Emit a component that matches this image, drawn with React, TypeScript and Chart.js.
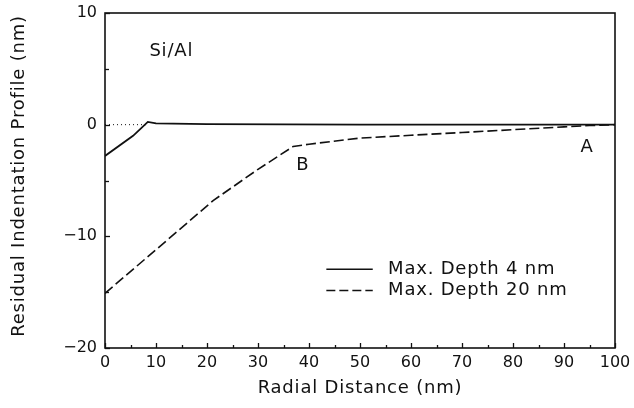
import React, { useEffect, useRef } from "react";
import { Chart, registerables } from "chart.js";

Chart.register(...registerables);

// Max. Depth 4 nm (solid)
const shallowX = [0, 5.5, 8.4, 10, 20, 50, 100];
const shallowY = [-2.8, -1.0, 0.25, 0.12, 0.05, 0, 0];

// Max. Depth 20 nm (dashed)
const deepX = [0, 10, 21.2, 30, 36.9, 40, 50, 60, 70, 80, 90, 95, 100];
const deepY = [-15.1, -11.2, -6.8, -4.0, -1.95, -1.75, -1.2, -0.95, -0.7, -0.45, -0.2, -0.08, 0];

// dotted zero reference
const refX = [0, 8.4];
const refY = [0, 0];

const legendLabels = ["Max. Depth 4 nm", "Max. Depth 20 nm"];
const xTitle = "Radial Distance (nm)";
const yTitle = "Residual Indentation Profile (nm)";
const sampleLabel = "Si/Al";
const pointLabels = [
  { text: "B", x: 38.8, y: -3.6 },
  { text: "A", x: 94.5, y: -2.0 },
];

const INK = "#111";
const FONT = "DejaVu Sans";

const toPts = (xs: number[], ys: number[]) => xs.map((x, i) => ({ x, y: ys[i] }));

const decorPlugin = {
  id: "decor",
  afterDatasetsDraw(chart: any) {
    const { ctx, chartArea: a, scales } = chart;
    const xs = scales.x;
    const ys = scales.y;
    ctx.save();
    ctx.strokeStyle = INK;
    ctx.fillStyle = INK;
    // frame
    ctx.lineWidth = 1.6;
    ctx.strokeRect(a.left, a.top, a.right - a.left, a.bottom - a.top);
    ctx.lineWidth = 1.3;
    // inward ticks x
    for (let v = 0; v <= 100; v += 5) {
      const px = Math.round(xs.getPixelForValue(v)) + 0.5;
      const len = v % 10 === 0 ? 5 : 3;
      ctx.beginPath();
      ctx.moveTo(px, a.bottom);
      ctx.lineTo(px, a.bottom - len);
      ctx.stroke();
    }
    // inward ticks y
    for (let v = -20; v <= 10; v += 5) {
      const py = Math.round(ys.getPixelForValue(v)) + 0.5;
      const len = v % 10 === 0 ? 5 : 4;
      ctx.beginPath();
      ctx.moveTo(a.left, py);
      ctx.lineTo(a.left + len, py);
      ctx.stroke();
    }
    // texts
    (ctx as any).letterSpacing = "0.8px";
    ctx.font = `18px "${FONT}"`;
    ctx.textAlign = "center";
    ctx.textBaseline = "middle";
    ctx.fillText(sampleLabel, xs.getPixelForValue(13), ys.getPixelForValue(6.6));
    pointLabels.forEach((p) => {
      ctx.fillText(p.text, xs.getPixelForValue(p.x), ys.getPixelForValue(p.y));
    });
    // axis titles
    ctx.fillText(xTitle, (a.left + a.right) / 2, 388);
    ctx.save();
    ctx.translate(19, 176);
    ctx.rotate(-Math.PI / 2);
    ctx.fillText(yTitle, 0, 0);
    ctx.restore();
    // legend
    const lx0 = xs.getPixelForValue(43.4);
    const lx1 = xs.getPixelForValue(52.5);
    const tx = xs.getPixelForValue(55.5);
    const rows = [ys.getPixelForValue(-12.95), ys.getPixelForValue(-14.85)];
    ctx.textAlign = "left";
    rows.forEach((ry, i) => {
      ctx.lineWidth = 1.5;
      ctx.setLineDash(i === 0 ? [] : [9, 4]);
      ctx.beginPath();
      ctx.moveTo(lx0, ry);
      ctx.lineTo(lx1, ry);
      ctx.stroke();
      ctx.setLineDash([]);
      ctx.fillText(legendLabels[i], tx, ry);
    });
    ctx.restore();
  },
};

export default function App() {
  const ref = useRef<HTMLCanvasElement>(null);
  useEffect(() => {
    if (!ref.current) return;
    const chart = new Chart(ref.current, {
      type: "scatter",
      data: {
        datasets: [
          {
            label: "ref",
            data: toPts(refX, refY),
            showLine: true,
            borderColor: INK,
            borderWidth: 1,
            borderDash: [1, 3],
            pointRadius: 0,
          },
          {
            label: legendLabels[0],
            data: toPts(shallowX, shallowY),
            showLine: true,
            borderColor: INK,
            borderWidth: 1.8,
            pointRadius: 0,
          },
          {
            label: legendLabels[1],
            data: toPts(deepX, deepY),
            showLine: true,
            borderColor: INK,
            borderWidth: 1.6,
            borderDash: [10, 4],
            pointRadius: 0,
          },
        ],
      },
      options: {
        animation: false,
        responsive: true,
        maintainAspectRatio: false,
        layout: { padding: { top: 13, right: 19, left: 0, bottom: 0 } },
        plugins: { legend: { display: false }, tooltip: { enabled: false } },
        scales: {
          x: {
            type: "linear",
            min: 0,
            max: 100,
            grid: { display: false, drawTicks: false },
            border: { display: false },
            ticks: {
              stepSize: 10,
              padding: 5,
              color: INK,
              font: { family: FONT, size: 16 },
              maxRotation: 0,
            },
            afterFit: (s: any) => {
              s.height = 60;
              s.paddingLeft = 0;
              s.paddingRight = 0;
            },
          },
          y: {
            type: "linear",
            min: -20,
            max: 10,
            grid: { display: false, drawTicks: false },
            border: { display: false },
            ticks: {
              stepSize: 10,
              padding: 8,
              color: INK,
              font: { family: FONT, size: 16 },
              callback: (v: any) => (v < 0 ? "\u2212" + Math.abs(v) : String(v)),
            },
            afterFit: (s: any) => {
              s.width = 105;
              s.paddingTop = 0;
              s.paddingBottom = 0;
            },
          },
        },
      },
      plugins: [decorPlugin],
    });
    return () => chart.destroy();
  }, []);
  return (
    <div style={{ position: "absolute", left: 0, top: 0, width: 634, height: 408, background: "#fff" }}>
      <canvas ref={ref} />
    </div>
  );
}
